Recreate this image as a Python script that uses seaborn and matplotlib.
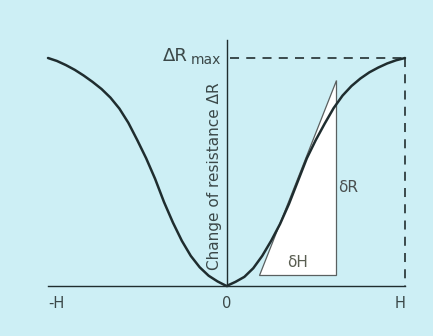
import matplotlib
matplotlib.use("Agg")
import matplotlib.pyplot as plt
from matplotlib.patches import Polygon
import pandas as pd
import seaborn as sns

# Magnetoresistance curve, field in units of H, resistance change in units of dR_max
field = [-1.00, -0.95, -0.90, -0.85, -0.80, -0.75, -0.70, -0.65, -0.60, -0.55, -0.50,
         -0.45, -0.40, -0.35, -0.30, -0.25, -0.20, -0.15, -0.10, -0.05, 0.00,
         0.05, 0.10, 0.15, 0.20, 0.25, 0.30, 0.35, 0.40, 0.45, 0.50,
         0.55, 0.60, 0.65, 0.70, 0.75, 0.80, 0.85, 0.90, 0.95, 1.00]
resistance = [1.000, 0.987, 0.969, 0.948, 0.923, 0.895, 0.864, 0.826, 0.778, 0.716, 0.640,
              0.560, 0.470, 0.368, 0.278, 0.198, 0.132, 0.082, 0.045, 0.020, 0.000,
              0.018, 0.040, 0.078, 0.132, 0.198, 0.272, 0.360, 0.460, 0.560, 0.640,
              0.712, 0.780, 0.835, 0.877, 0.910, 0.937, 0.958, 0.976, 0.990, 1.000]

# Slope triangle: base start, base end (corner), apex
tri_x = [0.182, 0.613, 0.613]
tri_y = [0.048, 0.048, 0.904]

tick_pos = [-1, 0, 1]
tick_labels = ["-H", "0", "H"]

bg = "#cdeff5"
ink = "#1f2d2f"
text_col = "#3b4848"

sns.set_theme(style="white")
plt.rcParams["font.family"] = ["DejaVu Sans"]

fig = plt.figure(figsize=(4.33, 3.36), dpi=100, facecolor=bg)
ax = fig.add_axes([0, 0, 1, 1], facecolor=bg)

# pixel-exact frame: x=-1 at 48px, x=1 at 405px; y=0 at 286px, y=1 at 58px
sx = 178.5
sy = 228.0
xmin = -1 - 48 / sx
ax.set_xlim(xmin, xmin + 433 / sx)
ax.set_ylim(-50 / sy, 286 / sy)

df = pd.DataFrame({"field": field, "resistance": resistance})

# triangle behind the curve
ax.add_patch(Polygon(list(zip(tri_x, tri_y)), closed=True, facecolor="white",
                     edgecolor="#5a6060", linewidth=0.9, zorder=2))

sns.lineplot(data=df, x="field", y="resistance", ax=ax, color=ink, linewidth=1.8,
             sort=False, zorder=4)

# dashed guides to the maximum
ax.plot([0.02, 1.0], [1.0, 1.0], color="#2f3d3f", lw=1.3, dashes=(5, 4), zorder=3)
ax.plot([1.0, 1.0], [1.0, 0.0], color="#2f3d3f", lw=1.3, dashes=(5, 4), zorder=3)

# axes through origin
for s in ["top", "right"]:
    ax.spines[s].set_visible(False)
ax.spines["left"].set_position(("data", 0))
ax.spines["bottom"].set_position(("data", 0))
ax.spines["left"].set_bounds(0, 1.08)
ax.spines["bottom"].set_bounds(-1, 1)
for s in ["left", "bottom"]:
    ax.spines[s].set_color(ink)
    ax.spines[s].set_linewidth(1.0)
    ax.spines[s].set_zorder(5)

ax.set_xticks(tick_pos)
ax.set_xticklabels(tick_labels, color=text_col, fontsize=10.5)
ax.tick_params(axis="x", length=0, pad=7)
labels = ax.get_xticklabels()
labels[0].set_horizontalalignment("left")
labels[2].set_horizontalalignment("right")
ax.set_yticks([])
ax.set_xlabel("")
ax.set_ylabel("")

# dR_max label
ax.text(-0.215, 0.985, "\u0394R", ha="right", va="baseline", fontsize=13, color=text_col)
ax.text(-0.030, 0.975, "max", ha="right", va="baseline", fontsize=10, color=text_col)

# vertical axis title
ax.text(-0.068, 0.48, "Change of resistance \u0394R", rotation=90, ha="center", va="center",
        fontsize=11, color=text_col)

ax.text(0.625, 0.43, "\u03b4R", ha="left", va="center", fontsize=11, color="#4a5050")
ax.text(0.40, 0.105, "\u03b4H", ha="center", va="center", fontsize=11, color="#5a5e52")

fig.savefig("out.png", dpi=100, facecolor=bg)
